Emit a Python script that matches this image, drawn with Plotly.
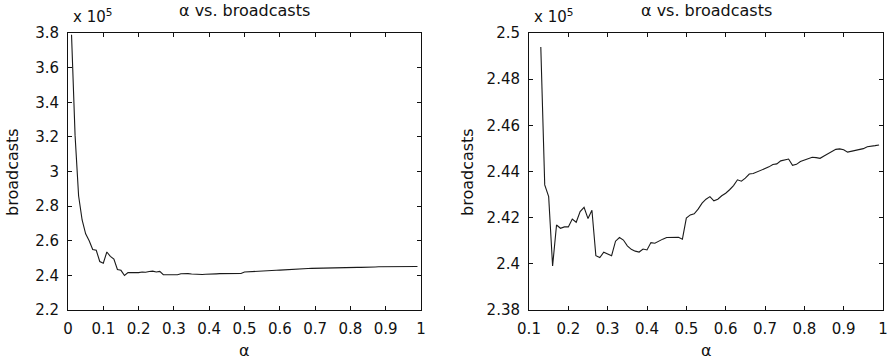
import plotly.graph_objects as go

# alpha sweep, step 0.01
alpha = [round(0.01 * i, 2) for i in range(1, 100)]

# broadcasts, in units of 1e5
broadcasts_e5 = [
    3.79, 3.21, 2.86, 2.72, 2.64, 2.60, 2.55, 2.545, 2.48, 2.47,
    2.535, 2.51, 2.4939, 2.4342, 2.4291, 2.3991, 2.4168, 2.4154, 2.4160, 2.4160,
    2.4194, 2.4180, 2.4226, 2.4245, 2.4196, 2.4232, 2.4035, 2.4027, 2.4050, 2.4042,
    2.4035, 2.4098, 2.4114, 2.4103, 2.4078, 2.4063, 2.4055, 2.4051, 2.4064, 2.4060,
    2.4092, 2.4089, 2.4099, 2.4107, 2.4114, 2.4114, 2.4114, 2.4115, 2.4107, 2.4198,
    2.4212, 2.4217, 2.4237, 2.4263, 2.4280, 2.4291, 2.4273, 2.4280, 2.4295, 2.4306,
    2.4321, 2.4339, 2.4364, 2.4358, 2.4371, 2.4389, 2.4391, 2.4398, 2.4404, 2.4411,
    2.4420, 2.4430, 2.4433, 2.4446, 2.4449, 2.4454, 2.4427, 2.4431, 2.4443, 2.4450,
    2.4456, 2.4462, 2.4460, 2.4457, 2.4467, 2.4477, 2.4486, 2.4496, 2.4498, 2.4494,
    2.4484, 2.4488, 2.4492, 2.4498, 2.4499, 2.4507, 2.4511, 2.4512, 2.4515,
]

# zoomed panel starts at alpha = 0.13
zoom_start = 12

x_ticks = [round(0.1 * i, 1) for i in range(0, 11)]
x_tick_text = ["0", "0.1", "0.2", "0.3", "0.4", "0.5", "0.6", "0.7", "0.8", "0.9", "1"]
x2_ticks = x_ticks[1:]
x2_tick_text = x_tick_text[1:]
y_ticks = [2.2, 2.4, 2.6, 2.8, 3.0, 3.2, 3.4, 3.6, 3.8]
y_tick_text = ["2.2", "2.4", "2.6", "2.8", "3", "3.2", "3.4", "3.6", "3.8"]
y2_ticks = [2.38, 2.40, 2.42, 2.44, 2.46, 2.48, 2.50]
y2_tick_text = ["2.38", "2.4", "2.42", "2.44", "2.46", "2.48", "2.5"]

W, H = 887, 363
FONT = "DejaVu Sans"
INK = "#111111"

fig = go.Figure()
fig.add_trace(go.Scatter(x=alpha, y=broadcasts_e5, mode="lines",
                         line=dict(color="#1a1a1a", width=1.1),
                         xaxis="x", yaxis="y", showlegend=False))
fig.add_trace(go.Scatter(x=alpha[zoom_start:], y=broadcasts_e5[zoom_start:], mode="lines",
                         line=dict(color="#1a1a1a", width=1.1),
                         xaxis="x2", yaxis="y2", showlegend=False))

# plot-area boxes in pixels
left_box = (68, 421)
right_box = (529, 883)
top_px, bottom_px = 33, 310
ydom = [1 - bottom_px / H, 1 - top_px / H]

axis_common = dict(
    showgrid=False, zeroline=False, showline=True, linecolor=INK, linewidth=1,
    mirror="ticks", ticks="inside", ticklen=4, tickcolor=INK, tickwidth=1,
    tickfont=dict(family=FONT, size=15, color=INK),
    ticklabelstandoff=5, automargin=False, ticklabeloverflow="allow",
)

fig.update_layout(
    template="none",
    width=W, height=H,
    margin=dict(l=0, r=0, t=0, b=0, pad=0, autoexpand=False),
    paper_bgcolor="white", plot_bgcolor="white",
    font=dict(family=FONT, color=INK),
    xaxis=dict(domain=[left_box[0] / W, left_box[1] / W], range=[0, 1],
               tickvals=x_ticks, ticktext=x_tick_text, anchor="y", **axis_common),
    yaxis=dict(domain=ydom, range=[2.2, 3.8],
               tickvals=y_ticks, ticktext=y_tick_text, anchor="x", **axis_common),
    xaxis2=dict(domain=[right_box[0] / W, right_box[1] / W], range=[0.1, 1],
                tickvals=x2_ticks, ticktext=x2_tick_text, anchor="y2", **axis_common),
    yaxis2=dict(domain=ydom, range=[2.38, 2.5],
                tickvals=y2_ticks, ticktext=y2_tick_text, anchor="x2", **axis_common),
)

title_font = dict(family=FONT, size=16, color=INK)
label_font = dict(family=FONT, size=16, color=INK)

for (x0, x1), ylab_x in ((left_box, 12), (right_box, 467)):
    cx = (x0 + x1) / 2 / W
    fig.add_annotation(text="α vs. broadcasts", x=cx, y=1 - 10 / H, xref="paper", yref="paper",
                       showarrow=False, font=title_font, xanchor="center", yanchor="middle")
    fig.add_annotation(text="α", x=cx, y=1 - 350 / H, xref="paper", yref="paper",
                       showarrow=False, font=label_font, xanchor="center", yanchor="middle")
    fig.add_annotation(text="broadcasts", x=ylab_x / W, y=1 - 172 / H, xref="paper", yref="paper",
                       showarrow=False, font=label_font, textangle=-90,
                       xanchor="center", yanchor="middle")
    fig.add_annotation(text="x 10<sup>5</sup>", x=(x0 + 3) / W, y=1 - 16 / H,
                       xref="paper", yref="paper", showarrow=False,
                       font=dict(family=FONT, size=15, color=INK),
                       xanchor="left", yanchor="middle")

fig.write_html("out.html")
